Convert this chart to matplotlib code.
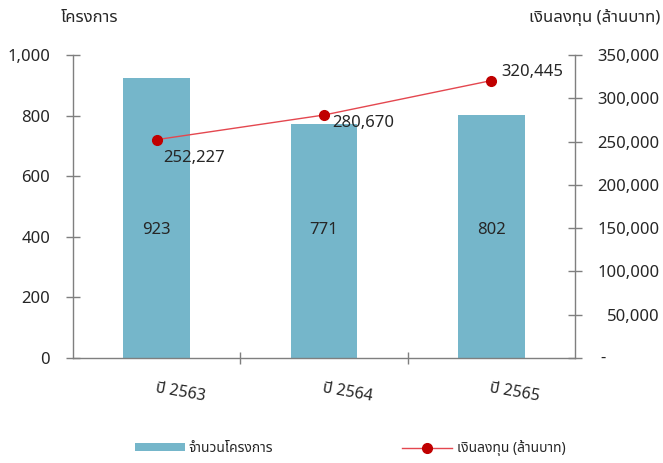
import matplotlib
matplotlib.use("Agg")
import matplotlib.pyplot as plt
import matplotlib.transforms as mtrans
from matplotlib.lines import Line2D
from matplotlib.patches import Patch
from matplotlib.ticker import FuncFormatter

plt.rcParams['font.family'] = ['Noto Sans Thai', 'DejaVu Sans']

categories = ["ปี 2563", "ปี 2564", "ปี 2565"]
projects = [923, 771, 802]
investment = [252227, 280670, 320445]
left_ticks = [0, 200, 400, 600, 800, 1000]
right_ticks = [0, 50000, 100000, 150000, 200000, 250000, 300000, 350000]
bar_label = "จำนวนโครงการ"
line_label = "เงินลงทุน (ล้านบาท)"
left_title = "โครงการ"
right_title = "เงินลงทุน (ล้านบาท)"

BAR_C = "#75B6CA"
LINE_C = "#E4474F"
MARK_C = "#C00000"
TXT = "#262626"
SPINE = "#7F7F7F"

fig = plt.figure(figsize=(6.63, 4.63), dpi=100)
ax = fig.add_axes([73/663, 1-358/463, (575-73)/663, (358-55)/463])
ax2 = ax.twinx()

x = list(range(len(categories)))
ax.bar(x, projects, width=0.4, color=BAR_C, zorder=2)
ax.set_xlim(-0.5, len(categories) - 0.5)
ax.set_ylim(0, 1000)
ax.set_yticks(left_ticks)
ax.yaxis.set_major_formatter(FuncFormatter(lambda v, p: f"{int(v):,}"))

for xi, v in zip(x, projects):
    ax.text(xi, 422, f"{v}", ha='center', va='center', fontsize=12, color=TXT, zorder=3)

ax2.plot(x, investment, color=LINE_C, lw=1.0, marker='o', markersize=7,
         markerfacecolor=MARK_C, markeredgecolor=MARK_C, zorder=4)
ax2.set_ylim(0, 350000)
ax2.set_yticks(right_ticks)
ax2.yaxis.set_major_formatter(FuncFormatter(lambda v, p: "" if v == 0 else f"{int(v):,}"))
dash = ax2.text(1.0, 0.0, "-", ha='left', va='center', fontsize=12, color=TXT,
                transform=ax2.transAxes + mtrans.ScaledTranslation(25/100, 0, fig.dpi_scale_trans))

offsets = [(4.5, -13.5), (5.8, -5.8), (7, 6.5)]
for xi, v, (dx, dy) in zip(x, investment, offsets):
    ax2.annotate(f"{v:,}", (xi, v), xytext=(dx, dy), textcoords='offset points',
                 ha='left', va='center', fontsize=12, color=TXT, zorder=5)

# spines
for a in (ax, ax2):
    a.spines['top'].set_visible(False)
    for s in ('left', 'right', 'bottom'):
        a.spines[s].set_color(SPINE)
        a.spines[s].set_linewidth(1.0)
ax2.spines['left'].set_visible(False)
ax2.spines['bottom'].set_visible(False)
ax.spines['right'].set_visible(False)

ax.tick_params(axis='y', direction='inout', length=10, width=1, color=SPINE,
               pad=11.5, labelsize=12, labelcolor=TXT)
ax2.tick_params(axis='y', direction='inout', length=10, width=1, color=SPINE,
                pad=56, labelsize=12, labelcolor=TXT)
for lab in ax2.get_yticklabels():
    lab.set_horizontalalignment('right')

ax.set_xticks(x)
ax.set_xticklabels(categories, rotation=-10, rotation_mode='anchor', ha='left', va='top',
                   fontsize=11.5, color=TXT, style='italic')
ax.tick_params(axis='x', which='major', length=0, pad=16)
ax.set_xticks([0.5, 1.5], minor=True)
ax.tick_params(axis='x', which='minor', direction='inout', length=8, width=1, color=SPINE)

fig.text(90/663, 1-18/463, left_title, ha='center', va='center', fontsize=12, color=TXT)
fig.text(660/663, 1-18/463, right_title, ha='right', va='center', fontsize=12, color=TXT)

handles = [Patch(facecolor=BAR_C, edgecolor='none'),
           Line2D([0], [0], color=LINE_C, lw=1.0, marker='o', markersize=7,
                  markerfacecolor=MARK_C, markeredgecolor=MARK_C)]
fig.legend(handles, [bar_label, line_label], ncol=2, loc='center',
           bbox_to_anchor=(350/663, 1-448/463), frameon=False, fontsize=10,
           handlelength=3.6, handleheight=0.45, columnspacing=9.3, handletextpad=0.3,
           labelcolor=TXT, borderpad=0.2)

fig.savefig("out.png", dpi=100)
